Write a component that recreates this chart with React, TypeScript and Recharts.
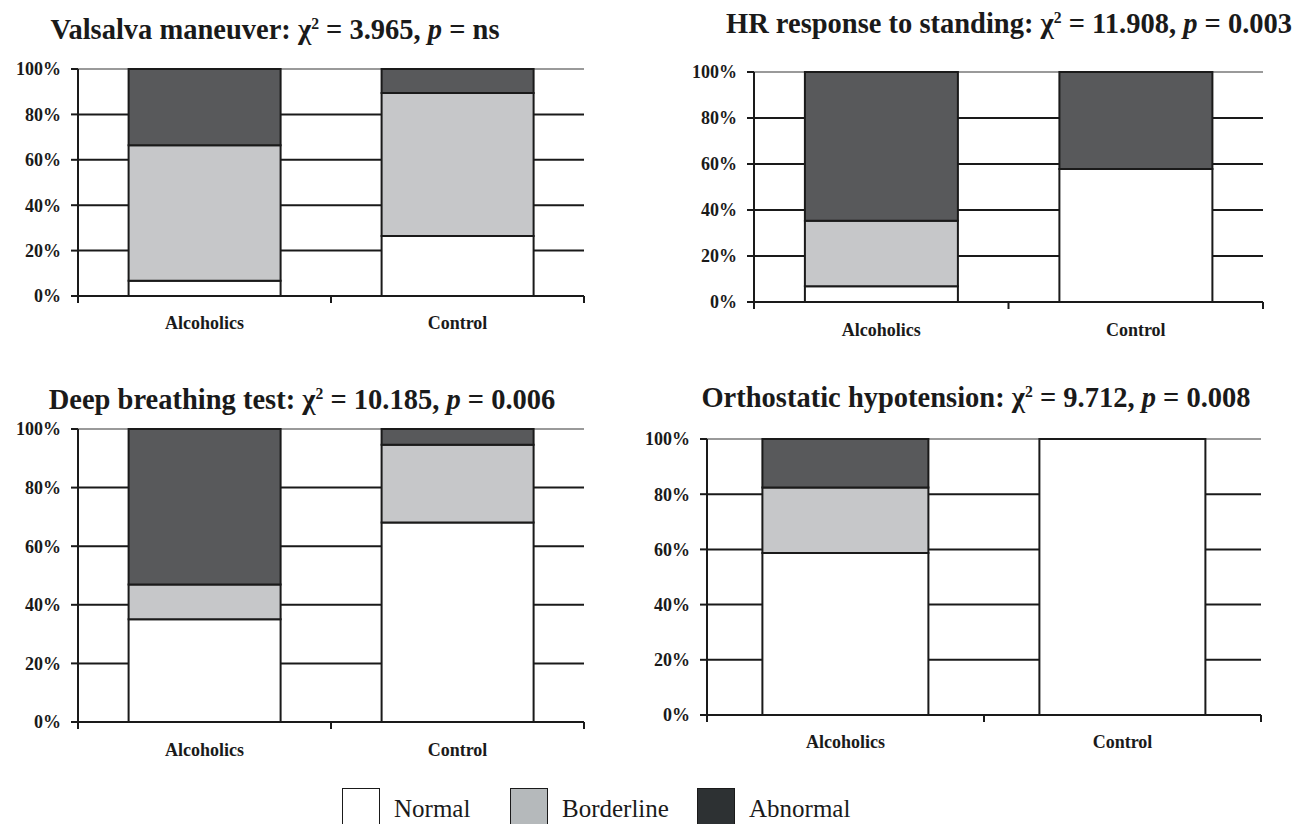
import { BarChart, Bar, XAxis, YAxis, CartesianGrid } from 'recharts'

const SERIF = "'Liberation Serif', 'Times New Roman', serif"
const INK = '#1a1a1a'
const EDGE = '#9a9a9a'

const GROUPS = ['Alcoholics', 'Control']
const Y_TICKS = [0, 20, 40, 60, 80, 100]

// percent of subjects per group: [Alcoholics, Control]
const valsalvaNormal = [6.7, 26.4]
const valsalvaBorderline = [59.7, 63.0]
const valsalvaAbnormal = [33.6, 10.6]

const hrNormal = [6.8, 57.8]
const hrBorderline = [28.5, 0]
const hrAbnormal = [64.7, 42.2]

const deepNormal = [35.1, 68.1]
const deepBorderline = [11.8, 26.5]
const deepAbnormal = [53.1, 5.4]

const orthoNormal = [58.7, 100]
const orthoBorderline = [23.7, 0]
const orthoAbnormal = [17.6, 0]

const BAR_COLORS = { normal: '#ffffff', borderline: '#c6c7c9', abnormal: '#58595b' }
const LEGEND_COLORS = ['#ffffff', '#b5b9bb', '#2d3133']
const LEGEND_LABELS = ['Normal', 'Borderline', 'Abnormal']

function CatTick(props: any) {
  const { x, y, payload, index, band, labelDy } = props
  return (
    <g>
      <line x1={x - band / 2} x2={x - band / 2} y1={y} y2={y + 7} stroke={INK} strokeWidth={2} />
      {index === GROUPS.length - 1 && (
        <line x1={x + band / 2} x2={x + band / 2} y1={y} y2={y + 7} stroke={INK} strokeWidth={2} />
      )}
      <text
        x={x}
        y={y + labelDy}
        textAnchor="middle"
        dominantBaseline="central"
        style={{ fontFamily: SERIF, fontSize: 18, fontWeight: 700, fill: INK }}
      >
        {payload.value}
      </text>
    </g>
  )
}

interface PanelProps {
  normal: number[]
  borderline: number[]
  abnormal: number[]
  x0: number
  x1: number
  y0: number
  y1: number
  labelDy: number
}

function Panel({ normal, borderline, abnormal, x0, x1, y0, y1, labelDy }: PanelProps) {
  const data = GROUPS.map((group, i) => ({
    group,
    normal: normal[i],
    borderline: borderline[i],
    abnormal: abnormal[i],
  }))
  const left = 78
  const top = 10
  const right = 10
  const bottom = 50
  const band = (x1 - x0) / GROUPS.length

  return (
    <div style={{ position: 'absolute', left: x0 - left, top: y0 - top }}>
      <BarChart
        width={x1 - x0 + left + right}
        height={y1 - y0 + top + bottom}
        data={data}
        margin={{ top, right, bottom: 0, left: 0 }}
        barCategoryGap="20%"
      >
        <CartesianGrid vertical={false} horizontalValues={[20, 40, 60, 80]} stroke={INK} strokeWidth={2} />
        <CartesianGrid vertical={false} horizontalValues={[100]} stroke={EDGE} strokeWidth={2} />
        <XAxis
          dataKey="group"
          height={bottom}
          interval={0}
          axisLine={{ stroke: INK, strokeWidth: 2 }}
          tickLine={false}
          tickSize={0}
          tickMargin={0}
          tick={(p: any) => <CatTick {...p} band={band} labelDy={labelDy} />}
        />
        <YAxis
          width={left}
          domain={[0, 100]}
          ticks={Y_TICKS}
          interval={0}
          tickFormatter={(v) => `${v}%`}
          axisLine={{ stroke: INK, strokeWidth: 2 }}
          tickLine={{ stroke: INK, strokeWidth: 2 }}
          tickSize={7}
          tickMargin={10}
          tick={{ fill: INK, fontSize: 18, fontWeight: 700, fontFamily: SERIF }}
        />
        <YAxis yAxisId="edge" orientation="right" width={0} tick={false} tickLine={false} axisLine={{ stroke: EDGE, strokeWidth: 2 }} />
        <Bar dataKey="normal" stackId="s" fill={BAR_COLORS.normal} stroke={INK} strokeWidth={2} isAnimationActive={false} />
        <Bar dataKey="borderline" stackId="s" fill={BAR_COLORS.borderline} stroke={INK} strokeWidth={2} isAnimationActive={false} />
        <Bar dataKey="abnormal" stackId="s" fill={BAR_COLORS.abnormal} stroke={INK} strokeWidth={2} isAnimationActive={false} />
      </BarChart>
    </div>
  )
}

function Title({ cx, cy, name, chi, p }: { cx: number; cy: number; name: string; chi: string; p: string }) {
  return (
    <div
      style={{
        position: 'absolute',
        left: cx,
        top: cy - 17,
        lineHeight: '34px',
        transform: 'translateX(-50%)',
        fontFamily: SERIF,
        fontWeight: 700,
        fontSize: 28.5,
        color: INK,
        whiteSpace: 'nowrap',
      }}
    >
      {name}: χ<sup style={{ fontSize: '0.55em', lineHeight: 0 }}>2</sup> = {chi}, <i>p</i> = {p}
    </div>
  )
}

export default function App() {
  const legendX = [342, 510, 697]
  return (
    <div
      style={{
        position: 'absolute',
        left: 0,
        top: 0,
        width: 1295,
        height: 824,
        background: '#fff',
        overflow: 'hidden',
      }}
    >
      <Title cx={275} cy={30} name="Valsalva maneuver" chi="3.965" p="ns" />
      <Title cx={1009} cy={24} name="HR response to standing" chi="11.908" p="0.003" />
      <Title cx={302} cy={400} name="Deep breathing test" chi="10.185" p="0.006" />
      <Title cx={976} cy={398} name="Orthostatic hypotension" chi="9.712" p="0.008" />

      <Panel normal={valsalvaNormal} borderline={valsalvaBorderline} abnormal={valsalvaAbnormal} x0={78} x1={584} y0={69} y1={296} labelDy={27} />
      <Panel normal={hrNormal} borderline={hrBorderline} abnormal={hrAbnormal} x0={754} x1={1263} y0={72} y1={302} labelDy={28} />
      <Panel normal={deepNormal} borderline={deepBorderline} abnormal={deepAbnormal} x0={78} x1={584} y0={429} y1={722} labelDy={28} />
      <Panel normal={orthoNormal} borderline={orthoBorderline} abnormal={orthoAbnormal} x0={707} x1={1261} y0={439} y1={715} labelDy={27} />

      {LEGEND_LABELS.map((label, i) => (
        <div key={label} style={{ position: 'absolute', left: legendX[i], top: 788, display: 'flex', alignItems: 'flex-start' }}>
          <div style={{ width: 36, height: 38, background: LEGEND_COLORS[i], border: `1.5px solid ${INK}` }} />
          <span style={{ marginLeft: 14, marginTop: 6, fontFamily: SERIF, fontSize: 25, lineHeight: '30px', color: INK }}>{label}</span>
        </div>
      ))}
    </div>
  )
}
